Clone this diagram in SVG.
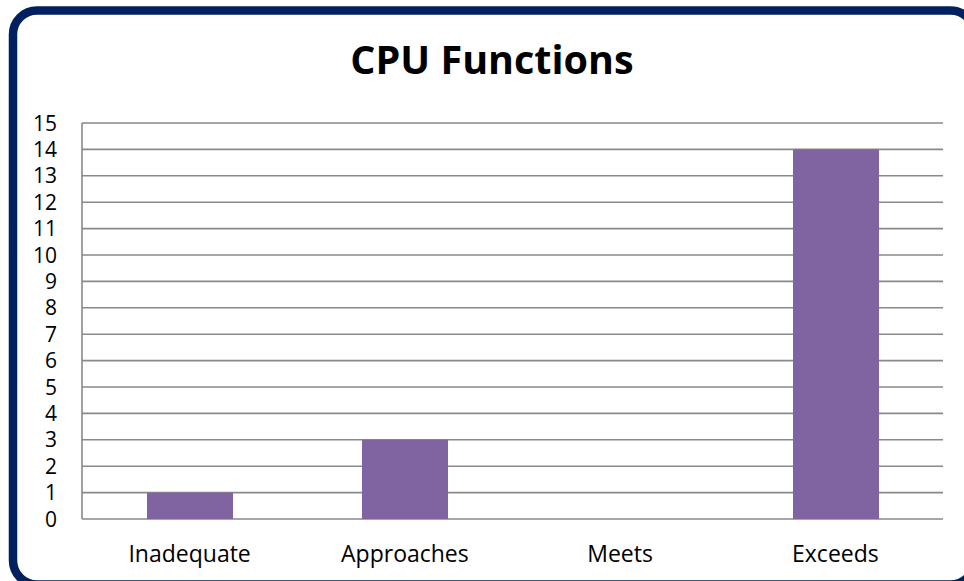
<svg xmlns="http://www.w3.org/2000/svg" width="964" height="581" viewBox="0 0 964 581">
<style>
.grid{stroke:#898989;stroke-width:1.6;fill:none}
.bar{fill:#8064A2}
.ylab{font-family:"Open Sans","Liberation Sans",sans-serif;font-size:21px;fill:#000;text-anchor:end}
.xlab{font-family:"Open Sans","Liberation Sans",sans-serif;font-size:23px;fill:#000;text-anchor:middle}
.title{font-family:"Open Sans","Liberation Sans",sans-serif;font-size:39.5px;font-weight:bold;fill:#000;text-anchor:middle}
</style>
<rect x="0" y="0" width="964" height="581" fill="#fff"/>
<g id="frame">
<rect x="13" y="10.5" width="961.5" height="574" rx="24" ry="24" fill="#fff" stroke="#002060" stroke-width="8.5"/>
</g>
<g id="title"><text class="title" x="492" y="74">CPU Functions</text></g>
<g id="grid">
<line class="grid" x1="82" y1="123" x2="943" y2="123"/>
<line class="grid" x1="82" y1="149.4" x2="943" y2="149.4"/>
<line class="grid" x1="82" y1="175.8" x2="943" y2="175.8"/>
<line class="grid" x1="82" y1="202.2" x2="943" y2="202.2"/>
<line class="grid" x1="82" y1="228.6" x2="943" y2="228.6"/>
<line class="grid" x1="82" y1="255" x2="943" y2="255"/>
<line class="grid" x1="82" y1="281.4" x2="943" y2="281.4"/>
<line class="grid" x1="82" y1="307.8" x2="943" y2="307.8"/>
<line class="grid" x1="82" y1="334.2" x2="943" y2="334.2"/>
<line class="grid" x1="82" y1="360.6" x2="943" y2="360.6"/>
<line class="grid" x1="82" y1="387" x2="943" y2="387"/>
<line class="grid" x1="82" y1="413.4" x2="943" y2="413.4"/>
<line class="grid" x1="82" y1="439.8" x2="943" y2="439.8"/>
<line class="grid" x1="82" y1="466.2" x2="943" y2="466.2"/>
<line class="grid" x1="82" y1="492.6" x2="943" y2="492.6"/>
<line class="grid" x1="82" y1="519" x2="943" y2="519"/>
<line class="grid" x1="82" y1="123" x2="82" y2="519"/>
</g>
<g id="ylabels">
<text class="ylab" x="57" y="130.5">15</text>
<text class="ylab" x="57" y="156.9">14</text>
<text class="ylab" x="57" y="183.3">13</text>
<text class="ylab" x="57" y="209.7">12</text>
<text class="ylab" x="57" y="236.1">11</text>
<text class="ylab" x="57" y="262.5">10</text>
<text class="ylab" x="57" y="288.9">9</text>
<text class="ylab" x="57" y="315.3">8</text>
<text class="ylab" x="57" y="341.7">7</text>
<text class="ylab" x="57" y="368.1">6</text>
<text class="ylab" x="57" y="394.5">5</text>
<text class="ylab" x="57" y="420.9">4</text>
<text class="ylab" x="57" y="447.3">3</text>
<text class="ylab" x="57" y="473.7">2</text>
<text class="ylab" x="57" y="500.1">1</text>
<text class="ylab" x="57" y="526.5">0</text>
</g>
<g id="bars">
<rect class="bar" x="147" y="492.6" width="86" height="26.4"/>
<rect class="bar" x="362" y="439.8" width="86" height="79.2"/>
<rect class="bar" x="793" y="149.4" width="86" height="369.6"/>
</g>
<g id="xlabels">
<text class="xlab" x="189.6" y="562">Inadequate</text>
<text class="xlab" x="404.9" y="562">Approaches</text>
<text class="xlab" x="620.1" y="562">Meets</text>
<text class="xlab" x="835.4" y="562">Exceeds</text>
</g>
</svg>
